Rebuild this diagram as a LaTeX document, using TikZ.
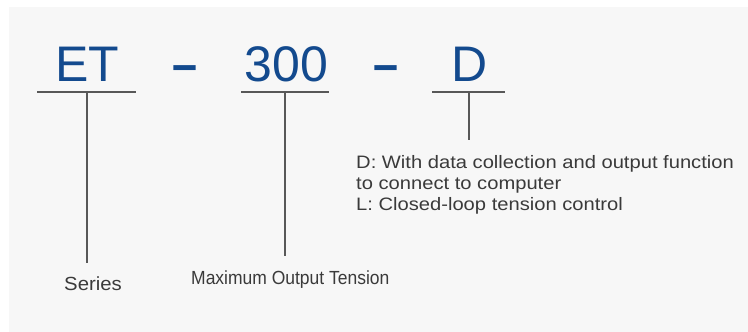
\documentclass[tikz,border=0pt]{standalone}
\usepackage{fontspec}
\setmainfont{Liberation Sans}
\usetikzlibrary{positioning}
\definecolor{codeblue}{HTML}{134A8E}
\definecolor{textgray}{HTML}{3A3A3A}
\definecolor{linegray}{HTML}{585858}
\definecolor{panelgray}{HTML}{F7F7F7}
\tikzset{
  part/.style={anchor=base, inner sep=0pt, text=codeblue, font=\fontsize{50}{60}\selectfont},
  tag/.style={anchor=base west, inner sep=0pt, text=textgray, font=\fontsize{19}{22}\selectfont},
  desc/.style={anchor=base west, inner sep=0pt, text=textgray, font=\fontsize{18}{21}\selectfont},
  rule/.style={draw=linegray, line width=1.3pt}
}
\newcommand{\codepart}[3] {\node at (#1) (#2) [part] {#3};}
\newcommand{\codeunder}[4] {\coordinate (#1l) at (#2,92); \coordinate (#1r) at (#3,92); \coordinate (#1m) at (#4,92); \draw [rule] (#1l) -- (#1r);}
\newcommand{\wide}[2] {\scalebox{#1}[1]{#2}}

\begin{document}
\begin{tikzpicture}[x=1pt, y=-1pt]
\fill [white] (0,0) rectangle (748,332);
\fill [panelgray] (9,7) rectangle (748,332);
\useasboundingbox (0,0) rectangle (748,332);

\codepart {87.5,81} {et} {ET};
\codepart {185,81} {dasha} {\bfseries\wide{0.9}{–}};
\codepart {286.5,81} {num} {300};
\codepart {386.5,81} {dashb} {\bfseries\wide{0.9}{–}};
\codepart {470,81} {opt} {D};

\codeunder {et} {37} {136} {87};
\codeunder {num} {241} {329} {285};
\codeunder {opt} {432} {505} {469};

\node at (64,290) (series) [tag] {\wide{1.07}{Series}};
\node at (191,284) (tension) [tag] {\wide{0.92}{Maximum Output Tension}};
\node at (356,168) (dline) [desc] {\wide{1.12}{D: With data collection and output function}};
\node at (356,189) (cline) [desc] {\wide{1.12}{to connect to computer}};
\node at (356,210) (lline) [desc] {\wide{1.12}{L: Closed-loop tension control}};

\coordinate (etend) at (87,263);
\coordinate (numend) at (285,256);
\coordinate (optend) at (469,140);
\draw [rule] (etm) -- (etend);
\draw [rule] (numm) -- (numend);
\draw [rule] (optm) -- (optend);

\end{tikzpicture}
\end{document}
